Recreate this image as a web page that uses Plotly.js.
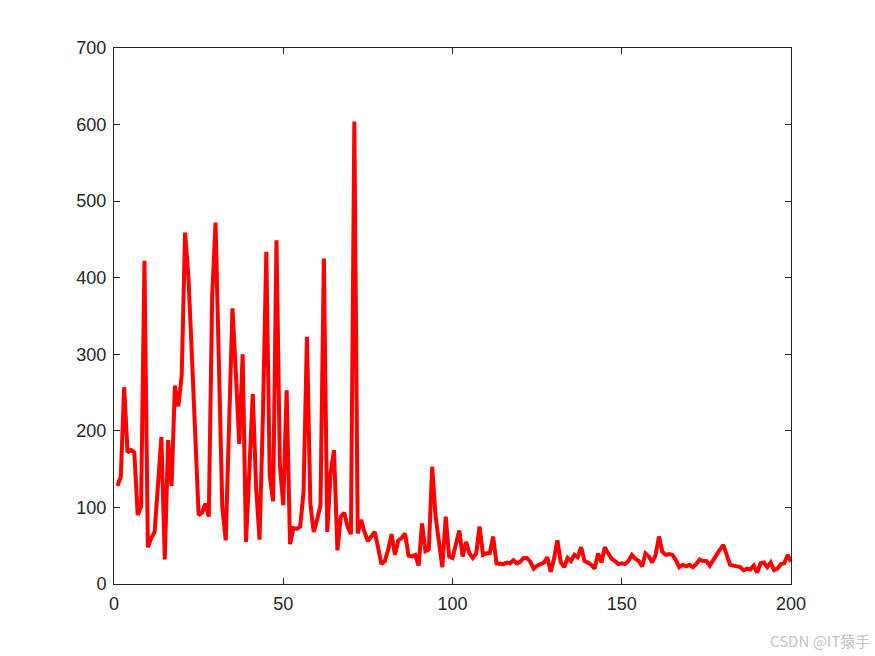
<!DOCTYPE html>
<html>
<head>
<meta charset="utf-8">
<script src="https://cdn.plot.ly/plotly-3.0.1.min.js"></script>
<style>html,body{margin:0;padding:0;background:#fff;}#chart{width:875px;height:656px;}</style>
</head>
<body>
<div id="chart"></div>
<script>
// iteration values 1..200
const values = [
  128,140,257,172,175,172,90,101,422,48,
  60,68,130,192,32,188,128,259,232,272,
  459,400,300,195,90,93,105,88,375,472,
  280,100,57,200,360,275,183,300,55,150,
  248,125,58,220,434,142,108,449,156,103,
  253,52,73,72,75,120,323,105,68,84,
  103,425,68,145,175,44,88,93,75,65,
  604,66,84,68,56,62,68,48,26,30,
  45,65,38,57,60,66,37,36,38,24,
  79,43,45,153,88,55,22,88,36,34,
  52,70,36,55,40,34,40,75,38,40,
  40,62,27,27,26,28,27,31,27,29,
  34,34,29,20,24,26,28,35,16,33,
  57,28,22,34,30,38,35,48,30,28,
  25,20,40,28,48,40,33,30,26,27,
  26,30,38,33,30,23,40,36,28,38,
  62,42,38,39,38,31,22,25,23,25,
  22,26,32,30,30,24,30,38,45,51,
  38,25,24,23,22,18,20,19,24,15,
  27,28,22,28,18,20,26,27,38,29
];
const iterations = values.map((v, i) => i + 1);
const xTicks = [0, 50, 100, 150, 200];
const yTicks = [0, 100, 200, 300, 400, 500, 600, 700];
const watermark = "CSDN @IT猿手";

const trace = {
  x: iterations,
  y: values,
  type: "scatter",
  mode: "lines",
  line: {color: "#ff0000", width: 4},
  hoverinfo: "skip"
};

const axisCommon = {
  showgrid: false,
  zeroline: false,
  showline: true,
  mirror: "ticks",
  linecolor: "#262626",
  linewidth: 1,
  ticks: "inside",
  ticklen: 6,
  tickwidth: 1,
  tickcolor: "#262626",
  ticklabelstandoff: 3,
  tickfont: {family: "Liberation Sans, Arial, sans-serif", size: 18, color: "#262626"}
};

const layout = {
  width: 875,
  height: 656,
  margin: {l: 114, r: 84, t: 48, b: 72},
  paper_bgcolor: "#ffffff",
  plot_bgcolor: "#ffffff",
  showlegend: false,
  xaxis: Object.assign({}, axisCommon, {range: [0, 200], tickvals: xTicks, ticktext: xTicks.map(String)}),
  yaxis: Object.assign({}, axisCommon, {range: [0, 700], tickvals: yTicks, ticktext: yTicks.map(String)}),
  annotations: [{
    text: watermark,
    xref: "paper", yref: "paper",
    x: 1.12, y: -0.106,
    xanchor: "right", yanchor: "middle",
    showarrow: false,
    font: {family: "Noto Sans CJK SC, sans-serif", size: 15, color: "#c4c4c4"}
  }]
};

Plotly.newPlot("chart", [trace], layout, {displayModeBar: false, staticPlot: true});
</script>
</body>
</html>
